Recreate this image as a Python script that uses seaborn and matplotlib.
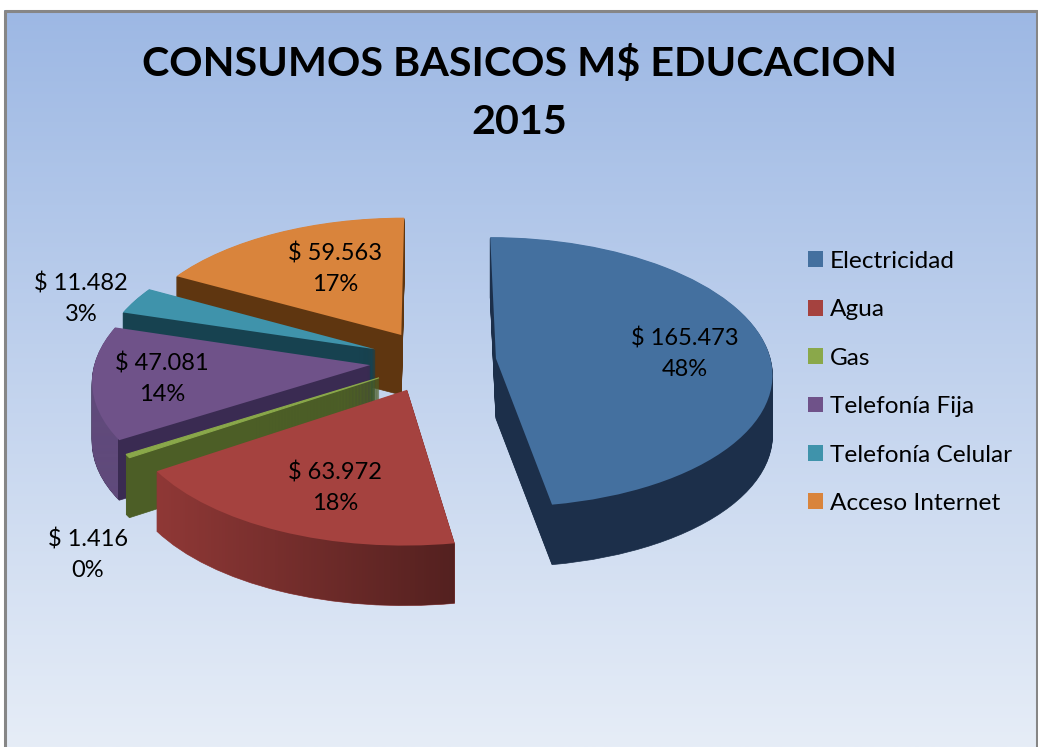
import numpy as np
import matplotlib
matplotlib.use('Agg')
import matplotlib.pyplot as plt
from matplotlib.colors import LinearSegmentedColormap, to_rgb
from matplotlib.patches import Patch
from matplotlib.path import Path
from matplotlib.transforms import Affine2D, IdentityTransform, Transform
import seaborn as sns

categories = ['Electricidad', 'Agua', 'Gas', 'Telefonía Fija', 'Telefonía Celular', 'Acceso Internet']
values = [165473, 63972, 1416, 47081, 11482, 59563]
value_labels = ['$ 165.473', '$ 63.972', '$ 1.416', '$ 47.081', '$ 11.482', '$ 59.563']
pct_labels = ['48%', '18%', '0%', '14%', '3%', '17%']
title = 'CONSUMOS BASICOS M$ EDUCACION\n2015'

top_colors = ['#44709f', '#a5423f', '#8aa84a', '#6f5289', '#3f93ab', '#d9843c']
side_colors = ['#1c2f4a', '#8f3836', '#4c5e26', '#3a2b52', '#174250', '#5f3610']
explode = [0.23] * 6

W, H = 1038, 747
sns.set_theme(style='white')
plt.rcParams['font.family'] = ['Lato', 'DejaVu Sans']

# radio 1 = rx px en x, ry px en y
cx, cy, rx, ry = 433, 361, 275, 134
depth_px = 60


class Persp(Transform):
    input_dims = 2
    output_dims = 2

    def __init__(self, k):
        super().__init__()
        self.k = k

    def transform_non_affine(self, values):
        f = 1 + self.k * values[:, 1]
        return values / f[:, None]


persp = Persp(0.1)


def pie_axes():
    a = fig.add_axes([0, 0, 1, 1])
    a.patch.set_alpha(0)
    a.axis('off')
    return a


def fix_limits(a):
    a.set_aspect('auto')
    a.set_xlim(-cx / rx, (W - cx) / rx)
    a.set_ylim((cy - H) / ry, cy / ry)
    a.axis('off')


def px_axes():
    a = fig.add_axes([0, 0, 1, 1])
    a.patch.set_alpha(0)
    a.set_xlim(0, W)
    a.set_ylim(H, 0)
    a.axis('off')
    return a


fig = plt.figure(figsize=(W / 100, H / 100), dpi=100)

# fondo con degradado, borde sin linea abajo
bg = px_axes()
grad = np.linspace(0, 1, 256).reshape(-1, 1)
bg.imshow(grad, aspect='auto', extent=(4, W - 2, H, 10), zorder=0,
          cmap=LinearSegmentedColormap.from_list('bg', ['#9db8e4', '#e6edf7']))
bg.set_xlim(0, W)
bg.set_ylim(H, 0)
bg.plot([4.5, 4.5, W - 1.5, W - 1.5], [H + 3, 10.5, 10.5, H + 3], color='#868686', lw=2.2, clip_on=True)

# costados: capas de la torta, de abajo hacia arriba
ax = pie_axes()
layers = {i: [] for i in range(len(values))}
for depth in range(depth_px, 0, -1):
    wedges, _ = ax.pie(values, explode=explode, colors=side_colors, startangle=90, counterclock=False,
                       frame=True)
    for i, w in enumerate(wedges):
        w.set(linewidth=0.5, edgecolor=side_colors[i])
        w.set_transform(persp + Affine2D().translate(0, -depth / ry) + ax.transData)
        layers[i].append(w)
fix_limits(ax)


def shade(a, idx, x0, x1, rgb, alpha0, alpha1):
    # degradado horizontal recortado a los costados de una tajada
    paths = [w.get_path().transformed(w.get_transform()) for w in layers[idx]]
    arr = np.zeros((1, 256, 4))
    arr[..., :3] = to_rgb(rgb)
    arr[..., 3] = np.linspace(alpha0, alpha1, 256)
    im = a.imshow(arr, aspect='auto', extent=(x0, x1, H, 0))
    im.set_clip_path(Path.make_compound_path(*paths), IdentityTransform())
    a.set_xlim(0, W)
    a.set_ylim(H, 0)


sh = px_axes()
shade(sh, 1, 157, 458, '#000000', 0.0, 0.42)
shade(sh, 3, 86, 118, '#6a5286', 0.8, 0.8)

# cara superior
top = pie_axes()
top.pie(values, explode=explode, colors=top_colors, startangle=90, counterclock=False,
        frame=True, wedgeprops={'linewidth': 0})
for w in top.patches:
    w.set_transform(persp + top.transData)
top.patches[2].set(linewidth=0.8, edgecolor=top_colors[2])
fix_limits(top)

# textos en pixeles
over = px_axes()
over.text(519, 93, title, ha='center', va='center', fontsize=29.7, fontweight='bold',
          color='black', linespacing=1.7)

label_pos = [(685, 354), (335, 488), (88, 555), (162, 379), (81, 299), (335, 269)]
for (x, y), v, p in zip(label_pos, value_labels, pct_labels):
    over.text(x, y, f'{v}\n{p}', ha='center', va='center', fontsize=17, linespacing=1.55, color='black')

handles = [Patch(facecolor=c, linewidth=0, label=n) for c, n in zip(top_colors, categories)]
over.legend(handles=handles, loc='upper left', bbox_to_anchor=(786 / W, 1 - 229 / H), frameon=False,
            fontsize=17.6, labelcolor='black', handlelength=0.62, handleheight=0.62, handletextpad=0.28,
            labelspacing=1.12)

fig.savefig('out.png', dpi=100)
